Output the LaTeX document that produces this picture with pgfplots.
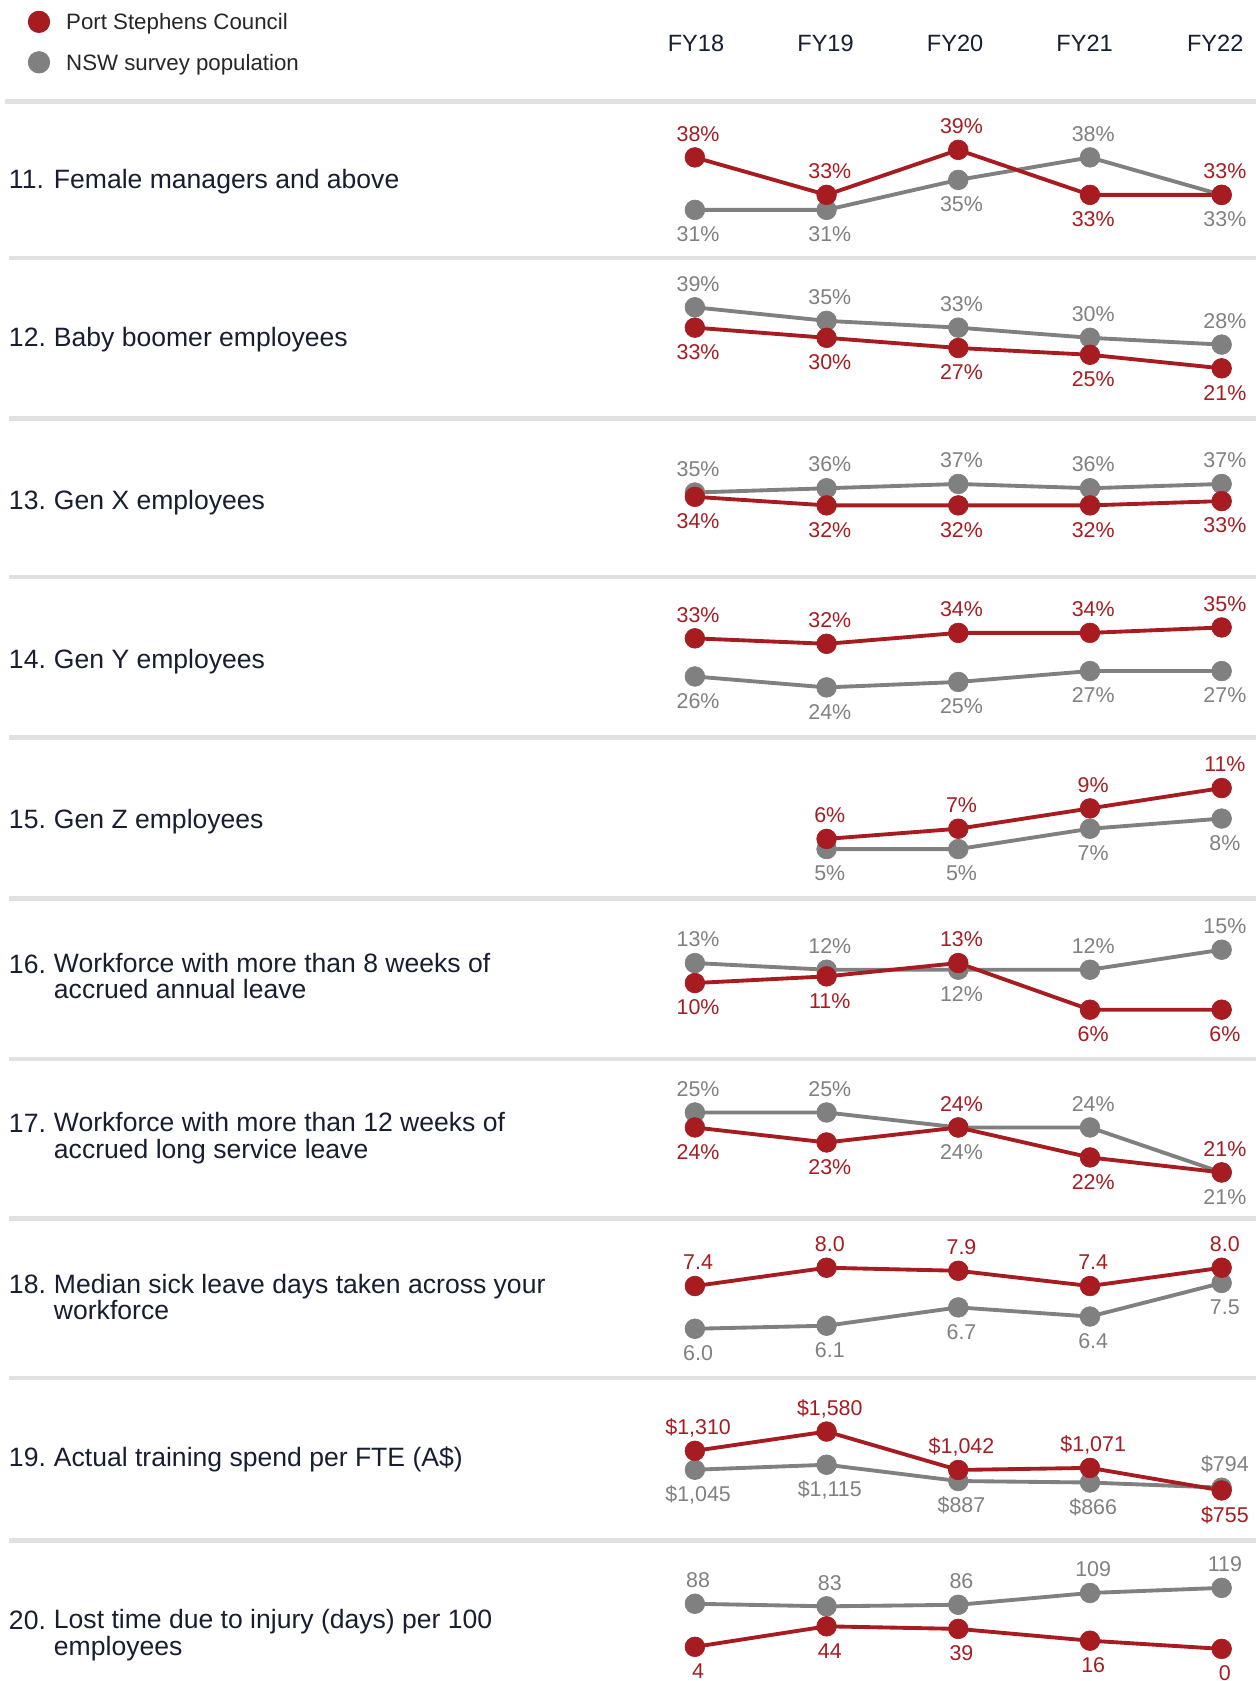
\documentclass[border=0pt]{standalone}
\usepackage{fontspec}
\setmainfont{Liberation Sans}
\usepackage{pgfplots}
\pgfplotsset{compat=1.18}

\definecolor{psred}{RGB}{166,28,33}
\definecolor{nswgrey}{RGB}{128,128,128}
\definecolor{ink}{RGB}{22,30,48}
\definecolor{rulegrey}{RGB}{225,225,225}

\pgfkeys{/pgf/number format/assume math mode=true}

\pgfplotsset{
  panel/.style={scale only axis, width=246pt, xmin=0, xmax=4,
    hide axis, clip=false, anchor=north west},
  srs/.style={color=#1, line width=1.8pt, line join=round,
    mark=*, mark size=4.6pt, mark options={solid, line width=0.3pt},
    point meta=y,
    visualization depends on={value \thisrow{d} \as \dpos},
    every node near coord/.append style={anchor=center,
      xshift=1.5pt, yshift=\dpos*11.2pt, inner sep=0pt,
      text height=7.2pt, text depth=0pt, text=#1,
      font=\fontsize{10pt}{12pt}\selectfont}},
  pct/.style={nodes near coords={\pgfmathprintnumber[fixed,precision=0]{\pgfplotspointmeta}\%}},
  dec/.style={nodes near coords={\pgfmathprintnumber[fixed,fixed zerofill,precision=1]{\pgfplotspointmeta}}},
  usd/.style={nodes near coords={\$\pgfmathprintnumber[fixed,precision=0,1000 sep={,}]{\pgfplotspointmeta}}},
  num/.style={nodes near coords={\pgfmathprintnumber[fixed,precision=0]{\pgfplotspointmeta}}},
}
\tikzset{
  ttl/.style={anchor=west, inner sep=0pt, text height=8.9pt, text depth=0pt,
    text=ink, font=\fontsize{12.4pt}{14pt}\selectfont},
  fy/.style={anchor=center, inner sep=0pt, text height=7.9pt, text depth=0pt,
    text=ink, font=\fontsize{11pt}{13pt}\selectfont},
}

\begin{document}
\begin{tikzpicture}[x=0.5pt, y=-0.5pt]
\path[use as bounding box] (0,0) rectangle (1175,1570);

% row rules
\draw[rulegrey, line width=2.2pt] (5,95) -- (1173,95);
\foreach \yy in {241,391,539,689,839,989,1138,1287,1439}
  \draw[rulegrey, line width=2.2pt] (8,\yy) -- (1173,\yy);

% year header
\node[fy] at (650,40) {FY18};
\node[fy] at (771,40) {FY19};
\node[fy] at (892,40) {FY20};
\node[fy] at (1013,40) {FY21};
\node[fy] at (1135,40) {FY22};

% legend
\begin{axis}[panel, height=10pt, ymin=0, ymax=1, at={(324pt,-5pt)},
  legend image code/.code={\fill[#1] (0pt,0pt) circle (5pt);},
  legend cell align=left,
  legend style={at={(rel axis cs:-1.2642,1)}, anchor=north west,
    draw=none, fill=none, inner sep=0pt, outer sep=0pt,
    row sep=8.5pt, column sep=7.5pt,
    font=\fontsize{10.4pt}{12pt}\selectfont,
    nodes={inner sep=0pt, text height=7.5pt, text depth=0pt, text=black!85}}]
\addlegendimage{psred}\addlegendentry{Port Stephens Council}
\addlegendimage{nswgrey}\addlegendentry{NSW survey population}
\end{axis}

% titles
\node[ttl] at (8,167) {11.}; \node[ttl] at (50,167) {Female managers and above};
\node[ttl] at (8,315) {12.}; \node[ttl] at (50,315) {Baby boomer employees};
\node[ttl] at (8,467) {13.}; \node[ttl] at (50,467) {Gen X employees};
\node[ttl] at (8,615) {14.}; \node[ttl] at (50,615) {Gen Y employees};
\node[ttl] at (8,765) {15.}; \node[ttl] at (50,765) {Gen Z employees};
\node[ttl] at (8,900) {16.}; \node[ttl] at (50,899) {Workforce with more than 8 weeks of};
\node[ttl] at (50,924) {accrued annual leave};
\node[ttl] at (8,1049) {17.}; \node[ttl] at (50,1048) {Workforce with more than 12 weeks of};
\node[ttl] at (50,1073) {accrued long service leave};
\node[ttl] at (8,1199) {18.}; \node[ttl] at (50,1199) {Median sick leave days taken across your};
\node[ttl] at (50,1223) {workforce};
\node[ttl] at (8,1361) {19.}; \node[ttl] at (50,1361) {Actual training spend per FTE (A\$)};
\node[ttl] at (8,1513) {20.}; \node[ttl] at (50,1512) {Lost time due to injury (days) per 100};
\node[ttl] at (50,1537) {employees};

% 11 female managers
\begin{axis}[panel, pct, height=28pt, ymin=31, ymax=39, at={(324.5pt,-70pt)}]
\addplot[srs=nswgrey] table[row sep=\\]{x y d\\ 0 31 -1\\ 1 31 -1\\ 2 35 -1\\ 3 38 1\\ 4 33 -1\\};
\addplot[srs=psred] table[row sep=\\]{x y d\\ 0 38 1\\ 1 33 1\\ 2 39 1\\ 3 33 -1\\ 4 33 1\\};
\end{axis}

% 12 baby boomers
\begin{axis}[panel, pct, height=28.5pt, ymin=21, ymax=39, at={(324.5pt,-143.5pt)}]
\addplot[srs=nswgrey] table[row sep=\\]{x y d\\ 0 39 1\\ 1 35 1\\ 2 33 1\\ 3 30 1\\ 4 28 1\\};
\addplot[srs=psred] table[row sep=\\]{x y d\\ 0 33 -1\\ 1 30 -1\\ 2 27 -1\\ 3 25 -1\\ 4 21 -1\\};
\end{axis}

% 13 gen x
\begin{axis}[panel, pct, height=10pt, ymin=32, ymax=37, at={(324.5pt,-226pt)}]
\addplot[srs=nswgrey] table[row sep=\\]{x y d\\ 0 35 1\\ 1 36 1\\ 2 37 1\\ 3 36 1\\ 4 37 1\\};
\addplot[srs=psred] table[row sep=\\]{x y d\\ 0 34 -1\\ 1 32 -1\\ 2 32 -1\\ 3 32 -1\\ 4 33 -1\\};
\end{axis}

% 14 gen y
\begin{axis}[panel, pct, height=28pt, ymin=24, ymax=35, at={(324.5pt,-293pt)}]
\addplot[srs=nswgrey] table[row sep=\\]{x y d\\ 0 26 -1\\ 1 24 -1\\ 2 25 -1\\ 3 27 -1\\ 4 27 -1\\};
\addplot[srs=psred] table[row sep=\\]{x y d\\ 0 33 1\\ 1 32 1\\ 2 34 1\\ 3 34 1\\ 4 35 1\\};
\end{axis}

% 15 gen z
\begin{axis}[panel, pct, height=28.5pt, ymin=5, ymax=11, at={(324.5pt,-368pt)}]
\addplot[srs=nswgrey] table[row sep=\\]{x y d\\ 1 5 -1\\ 2 5 -1\\ 3 7 -1\\ 4 8 -1\\};
\addplot[srs=psred] table[row sep=\\]{x y d\\ 1 6 1\\ 2 7 1\\ 3 9 1\\ 4 11 1\\};
\end{axis}

% 16 annual leave
\begin{axis}[panel, pct, height=28pt, ymin=6, ymax=15, at={(324.5pt,-443.5pt)}]
\addplot[srs=nswgrey] table[row sep=\\]{x y d\\ 0 13 1\\ 1 12 1\\ 2 12 -1\\ 3 12 1\\ 4 15 1\\};
\addplot[srs=psred] table[row sep=\\]{x y d\\ 0 10 -1\\ 1 11 -1\\ 2 13 1\\ 3 6 -1\\ 4 6 -1\\};
\end{axis}

% 17 long service leave
\begin{axis}[panel, pct, height=28pt, ymin=21, ymax=25, at={(324.5pt,-519.5pt)}]
\addplot[srs=nswgrey] table[row sep=\\]{x y d\\ 0 25 1\\ 1 25 1\\ 2 24 -1\\ 3 24 1\\ 4 21 -1\\};
\addplot[srs=psred] table[row sep=\\]{x y d\\ 0 24 -1\\ 1 23 -1\\ 2 24 1\\ 3 22 -1\\ 4 21 1\\};
\end{axis}

% 18 sick leave
\begin{axis}[panel, dec, height=28.5pt, ymin=6, ymax=8, at={(324.5pt,-592pt)}]
\addplot[srs=nswgrey] table[row sep=\\]{x y d\\ 0 6.0 -1\\ 1 6.1 -1\\ 2 6.7 -1\\ 3 6.4 -1\\ 4 7.5 -1\\};
\addplot[srs=psred] table[row sep=\\]{x y d\\ 0 7.4 1\\ 1 8.0 1\\ 2 7.9 1\\ 3 7.4 1\\ 4 8.0 1\\};
\end{axis}

% 19 training spend
\begin{axis}[panel, usd, height=27.5pt, ymin=755, ymax=1580, at={(324.5pt,-668.5pt)}]
\addplot[srs=nswgrey] table[row sep=\\]{x y d\\ 0 1045 -1\\ 1 1115 -1\\ 2 887 -1\\ 3 866 -1\\ 4 794 1\\};
\addplot[srs=psred] table[row sep=\\]{x y d\\ 0 1310 1\\ 1 1580 1\\ 2 1042 1\\ 3 1071 1\\ 4 755 -1\\};
\end{axis}

% 20 lost time
\begin{axis}[panel, num, height=28.5pt, ymin=0, ymax=119, at={(324.5pt,-741.5pt)}]
\addplot[srs=nswgrey] table[row sep=\\]{x y d\\ 0 88 1\\ 1 83 1\\ 2 86 1\\ 3 109 1\\ 4 119 1\\};
\addplot[srs=psred] table[row sep=\\]{x y d\\ 0 4 -1\\ 1 44 -1\\ 2 39 -1\\ 3 16 -1\\ 4 0 -1\\};
\end{axis}

\end{tikzpicture}
\end{document}
